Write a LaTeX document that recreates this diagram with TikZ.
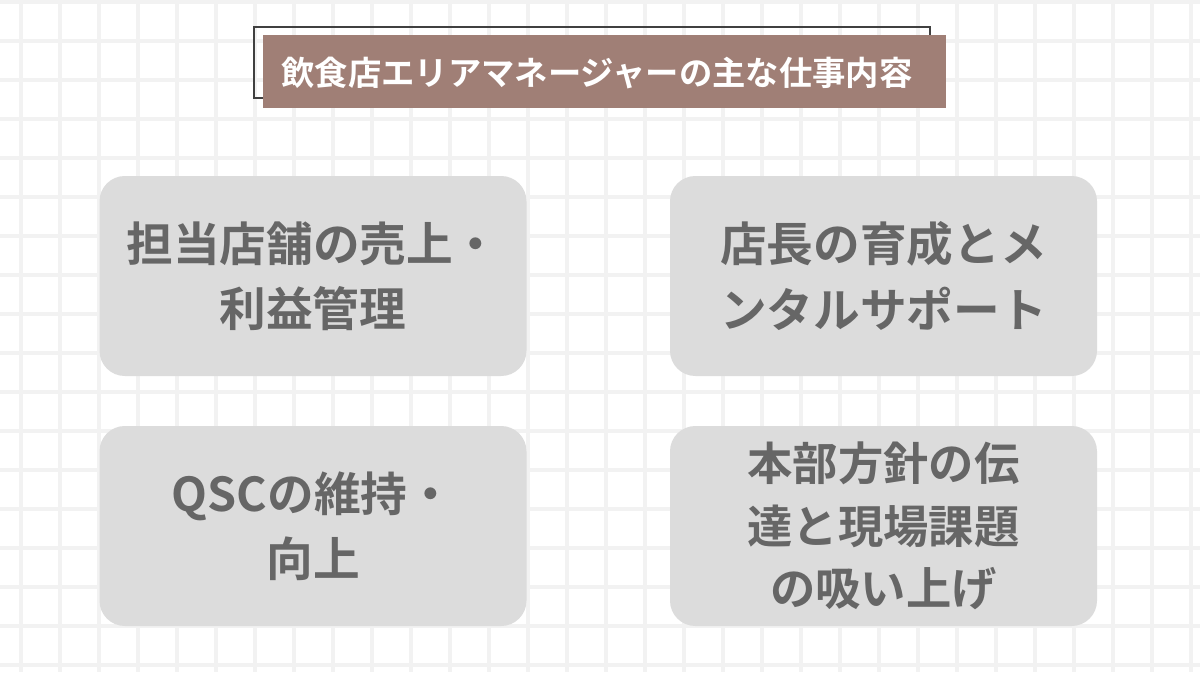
\documentclass[tikz,border=0pt]{standalone}
\usepackage{fontspec}
\newfontfamily\cjk{Noto Sans CJK JP}[BoldFont={Noto Sans CJK JP Bold}]
\definecolor{gridc}{HTML}{F2F2F2}
\definecolor{boxc}{HTML}{DCDCDC}
\definecolor{txtc}{HTML}{666666}
\definecolor{brown}{HTML}{A07F76}
\begin{document}
\begin{tikzpicture}[x=0.75pt,y=-0.75pt,
  box/.style={fill=boxc,rounded corners=19pt,minimum width=320.25pt,minimum height=150pt,inner sep=0pt,align=center,text=txtc,font=\cjk\bfseries\fontsize{35}{49}\selectfont}]
\fill[white] (0,0) rectangle (1200,672);
\useasboundingbox (0,0) rectangle (1200,672);
\foreach \i in {0,...,30}{\draw[gridc,line width=2.6pt] (21+39*\i,0) -- (21+39*\i,672);}
\foreach \j in {0,...,17}{\draw[gridc,line width=2.6pt] (0,2+39*\j) -- (1200,2+39*\j);}
\draw[black!75,line width=1.2pt] (254,27) rectangle (930,98);
\fill[brown] (263,35) rectangle (946,108);
\node[text=white,font=\cjk\bfseries\fontsize{25}{28}\selectfont] (title) at (597,73) {飲食店エリアマネージャーの主な仕事内容};
\node[box] (a) at (313,276) {担当店舗の売上・\\利益管理};
\node[box] (b) at (883.5,276) {店長の育成とメ\\ンタルサポート};
\node[box] (c) at (313,526) {QSCの維持・\\向上};
\node[box,font=\cjk\bfseries\fontsize{34}{47}\selectfont] (d) at (883.5,526) {本部方針の伝\\達と現場課題\\の吸い上げ};
\end{tikzpicture}
\end{document}
